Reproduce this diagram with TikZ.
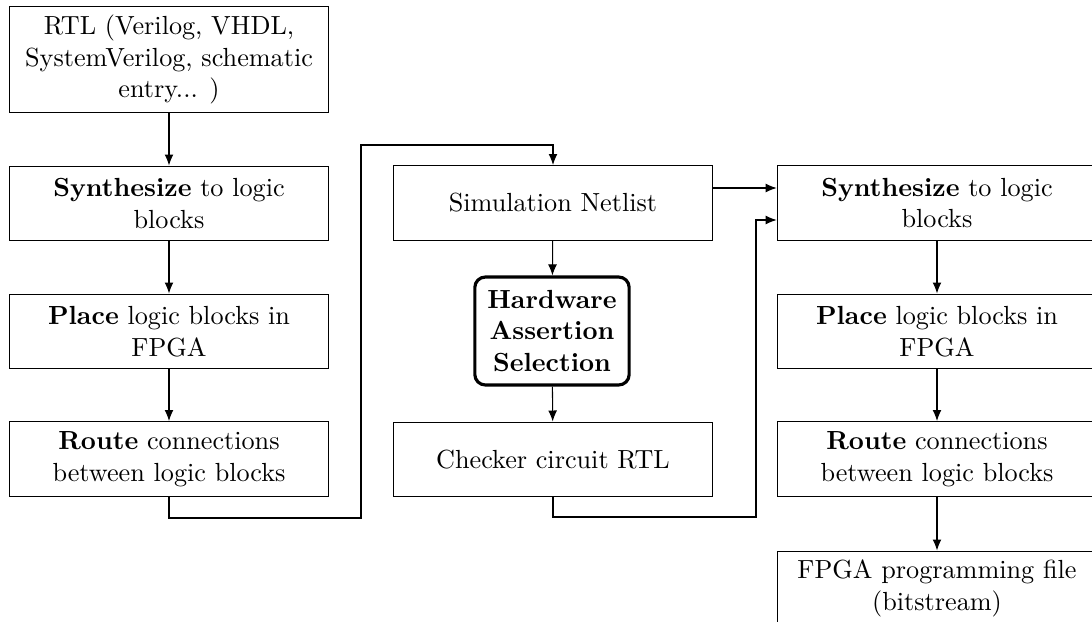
\documentclass[tikz,border=0pt]{standalone}
\usetikzlibrary{arrows.meta,calc}
\begin{document}
\begin{tikzpicture}[x=0.3817pt,y=-0.3817pt,
  flow/.style={-{Latex[length=4.2pt,width=3.4pt]}},
  stage/.style={draw,rectangle,align=flush center,text width=115pt,inner xsep=3.5pt,
    minimum height=28.6pt},
  tall/.style={stage,minimum height=40pt},
  keystep/.style={draw,very thick,rounded corners=4pt,align=center,
    inner xsep=4.8pt,minimum height=41.2pt,font=\bfseries}]
\useasboundingbox (0,0) rectangle (1092,622);

% first flow: from RTL to routed design
\node[tall]  (rtl)    at (169,59.5) {RTL (Verilog, VHDL, SystemVerilog, schematic entry... )};
\node[stage] (lsyn)   at (169,203.5) {\textbf{Synthesize} to logic blocks};
\node[stage] (lplace) at (169,331.5) {\textbf{Place} logic blocks in FPGA};
\node[stage] (lroute) at (169,459) {\textbf{Route} connections between logic blocks};

% assertion selection
\node[stage]   (simnet)  at (553,203) {Simulation Netlist};
\node[keystep] (hw)      at (552,331) {Hardware\\Assertion\\Selection};
\node[stage]   (checker) at (553,459.5) {Checker circuit RTL};

% second flow: to the bitstream
\node[stage] (rsyn)   at (937,203) {\textbf{Synthesize} to logic blocks};
\node[stage] (rplace) at (937,331.5) {\textbf{Place} logic blocks in FPGA};
\node[stage] (rroute) at (937,459) {\textbf{Route} connections between logic blocks};
\node[stage] (bits)   at (937,588.5) {FPGA programming file (bitstream)};

% bend points of the routed connectors
\coordinate (c1) at (361,518);
\coordinate (c2) at (361,145);
\coordinate (c3) at (756,517);
\coordinate (c4) at (756,220);
\path (simnet.east) ++(0,-15) coordinate (c5);

\draw[flow] (rtl) -- (lsyn);
\draw[flow] (lsyn) -- (lplace);
\draw[flow] (lplace) -- (lroute);
\draw[flow] (lroute.south) |- (c1) -- (c2) -| (simnet.north);
\draw[flow] (simnet) -- (hw);
\draw[flow] (hw) -- (checker);
\draw[flow] (c5) -- (c5 -| rsyn.west);
\draw[flow] (checker.south) |- (c3) -- (c4) -- (c4 -| rsyn.west);
\draw[flow] (rsyn) -- (rplace);
\draw[flow] (rplace) -- (rroute);
\draw[flow] (rroute) -- (bits);
\end{tikzpicture}
\end{document}
